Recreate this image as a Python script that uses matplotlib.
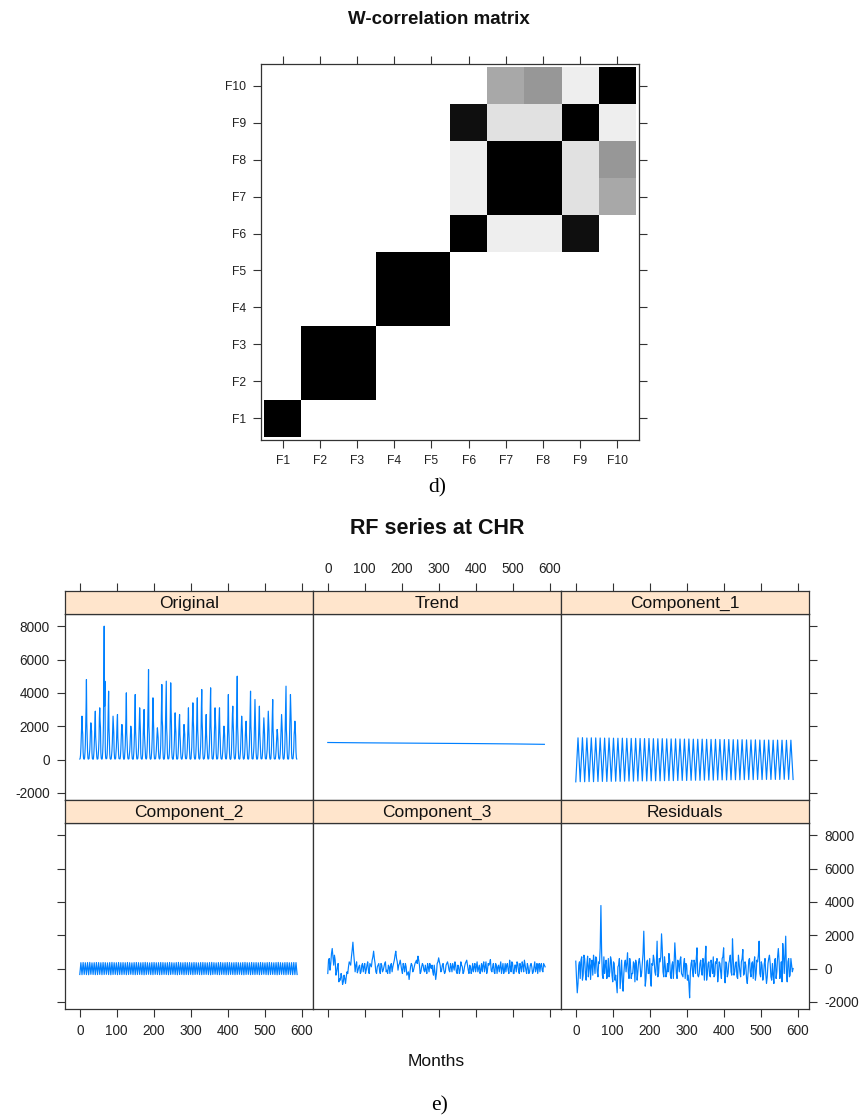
import matplotlib
matplotlib.use("Agg")
import matplotlib.pyplot as plt
import numpy as np

plt.rcParams['font.family'] = ['Liberation Sans', 'DejaVu Sans']
plt.rcParams['axes.unicode_minus'] = False

# ---------------- data: W-correlation matrix ----------------
factor_labels = ['F1', 'F2', 'F3', 'F4', 'F5', 'F6', 'F7', 'F8', 'F9', 'F10']
# rows = F1..F10 (bottom to top), cols = F1..F10
wcor = [
    [1.00, 0.00, 0.00, 0.00, 0.00, 0.00, 0.00, 0.00, 0.00, 0.00],
    [0.00, 1.00, 1.00, 0.00, 0.00, 0.00, 0.00, 0.00, 0.00, 0.00],
    [0.00, 1.00, 1.00, 0.00, 0.00, 0.00, 0.00, 0.00, 0.00, 0.00],
    [0.00, 0.00, 0.00, 1.00, 1.00, 0.00, 0.00, 0.00, 0.00, 0.00],
    [0.00, 0.00, 0.00, 1.00, 1.00, 0.00, 0.00, 0.00, 0.00, 0.00],
    [0.00, 0.00, 0.00, 0.00, 0.00, 1.00, 0.07, 0.07, 0.94, 0.00],
    [0.00, 0.00, 0.00, 0.00, 0.00, 0.07, 1.00, 1.00, 0.12, 0.34],
    [0.00, 0.00, 0.00, 0.00, 0.00, 0.07, 1.00, 1.00, 0.12, 0.41],
    [0.00, 0.00, 0.00, 0.00, 0.00, 0.94, 0.12, 0.12, 1.00, 0.07],
    [0.00, 0.00, 0.00, 0.00, 0.00, 0.00, 0.34, 0.41, 0.07, 1.00],
]

# ---------------- data: RF series at CHR (months 0..~588) ----------------
panel_names = ['Original', 'Trend', 'Component_1',
               'Component_2', 'Component_3', 'Residuals']

# Original, one row per year: Jan, Mar, May, Jul, Sep, Nov
original_jan_mar = [
    [30, 250, 1300, 2600, 1500, 120], [20, 400, 1900, 4800, 1200, 90],
    [40, 300, 1100, 2200, 1700, 60], [10, 350, 1600, 2900, 1000, 150],
    [30, 280, 1200, 3100, 1900, 80], [20, 450, 2100, 8000, 4700, 110],
    [50, 300, 1800, 4100, 1300, 70], [20, 250, 1000, 2600, 1600, 100],
    [30, 380, 1500, 2700, 900, 60], [40, 200, 1300, 2100, 1400, 130],
    [20, 420, 1700, 4000, 1100, 90], [30, 260, 900, 2000, 1500, 50],
    [10, 350, 1600, 3900, 1200, 100], [40, 300, 1400, 3100, 1700, 70],
    [20, 280, 1900, 3000, 1000, 120], [30, 500, 2200, 5400, 1500, 80],
    [20, 330, 1300, 3700, 1800, 60], [50, 250, 1100, 1900, 1300, 140],
    [30, 400, 1800, 4500, 2000, 90], [20, 350, 2300, 4700, 1400, 70],
    [40, 300, 1500, 4600, 2100, 110], [10, 280, 1200, 2800, 1600, 60],
    [30, 350, 1700, 2700, 1100, 100], [20, 220, 1000, 2100, 1500, 80],
    [40, 300, 1400, 3100, 1200, 50], [20, 380, 1600, 3400, 1900, 120],
    [30, 320, 1800, 3700, 1300, 90], [20, 400, 1500, 4200, 1700, 70],
    [50, 260, 1300, 2700, 1000, 110], [30, 420, 2000, 4300, 1500, 60],
    [20, 300, 1400, 3100, 1800, 100], [40, 350, 1700, 3100, 1200, 80],
    [20, 240, 1000, 2000, 1400, 130], [30, 380, 1600, 3900, 1300, 70],
    [10, 320, 1900, 3200, 1600, 90], [30, 450, 2100, 5000, 1400, 60],
    [20, 280, 1200, 2600, 1700, 110], [40, 300, 1500, 2300, 1000, 80],
    [20, 400, 1800, 4100, 1500, 50], [30, 330, 1400, 3600, 1900, 120],
    [20, 300, 1600, 3200, 1100, 90], [50, 250, 1300, 2500, 1500, 70],
    [30, 320, 1200, 2900, 1700, 100], [20, 380, 1700, 3600, 1300, 60],
    [40, 200, 900, 1800, 1200, 110], [20, 300, 1400, 2700, 1600, 80],
    [30, 420, 2000, 4400, 1300, 90], [20, 350, 1800, 3900, 2200, 70],
    [40, 300, 1500, 2300, 1400, 100],
]
# Original, one row per year: Feb, Apr, Jun, Aug, Oct, Dec
original_feb_apr = [
    [60, 700, 2000, 1800, 450, 30], [90, 900, 3100, 2200, 500, 20],
    [50, 600, 1800, 1900, 380, 40], [70, 800, 2200, 1400, 520, 20],
    [40, 650, 2500, 2300, 400, 30], [80, 1000, 4700, 3200, 600, 40],
    [60, 900, 3000, 1900, 350, 20], [50, 550, 1700, 2100, 480, 30],
    [70, 750, 2300, 1300, 300, 40], [40, 600, 1800, 1700, 520, 20],
    [80, 850, 2700, 1600, 420, 30], [50, 500, 1500, 1800, 350, 40],
    [60, 800, 2900, 1700, 450, 20], [70, 700, 2200, 2300, 380, 30],
    [40, 900, 2600, 1500, 500, 40], [90, 1100, 3600, 2000, 420, 20],
    [60, 700, 2400, 2500, 350, 30], [50, 550, 1500, 1600, 480, 40],
    [70, 850, 3200, 2400, 520, 20], [60, 1000, 3900, 1900, 400, 30],
    [80, 750, 2800, 3100, 460, 40], [40, 650, 2000, 2000, 380, 20],
    [60, 800, 2300, 1500, 430, 30], [50, 500, 1600, 1800, 350, 40],
    [70, 700, 2400, 1700, 480, 20], [60, 750, 2600, 2400, 420, 30],
    [40, 900, 2900, 1800, 500, 40], [80, 800, 3100, 2300, 380, 20],
    [60, 650, 2100, 1500, 450, 30], [70, 950, 3300, 2000, 520, 40],
    [50, 700, 2200, 2400, 400, 20], [60, 850, 2500, 1700, 360, 30],
    [40, 550, 1500, 1800, 480, 40], [70, 800, 2800, 1900, 420, 20],
    [60, 900, 2700, 2200, 390, 30], [80, 1000, 3500, 2000, 500, 40],
    [50, 600, 1900, 2200, 430, 20], [60, 750, 2000, 1500, 370, 30],
    [70, 850, 3000, 2000, 460, 40], [40, 700, 2500, 2600, 410, 20],
    [60, 800, 2400, 1600, 500, 30], [50, 650, 1900, 2000, 380, 40],
    [70, 600, 2100, 2300, 440, 20], [60, 850, 2800, 1800, 360, 30],
    [40, 500, 1400, 1600, 470, 40], [60, 700, 2000, 2100, 420, 20],
    [80, 950, 3100, 1800, 510, 30], [60, 900, 2800, 3000, 390, 40],
    [50, 700, 1800, 1900, 440, 30],
]

trend_months = [0, 100, 200, 300, 400, 500, 586]
trend_values = [1020, 1000, 985, 970, 955, 935, 910]

# Component_1: yearly cycle, troughs at start of each year, peaks mid-year
comp1_peaks = [1300, 1310, 1290, 1300, 1295, 1290, 1285, 1290, 1280, 1275,
               1280, 1270, 1265, 1270, 1260, 1255, 1260, 1250, 1245, 1250,
               1240, 1235, 1240, 1230, 1225, 1230, 1220, 1215, 1220, 1210,
               1205, 1210, 1200, 1195, 1200, 1190, 1185, 1190, 1180, 1175,
               1180, 1170, 1165, 1170, 1160, 1165, 1160, 1155, 1160]
comp1_troughs = [-1340, -1330, -1335, -1325, -1330, -1320, -1315, -1320, -1310, -1305,
                 -1310, -1300, -1295, -1300, -1290, -1285, -1290, -1280, -1275, -1280,
                 -1270, -1265, -1270, -1260, -1255, -1260, -1250, -1245, -1250, -1240,
                 -1235, -1240, -1230, -1225, -1230, -1220, -1215, -1220, -1210, -1205,
                 -1210, -1200, -1205, -1195, -1200, -1195, -1200, -1190, -1195, -1200]

# Component_2: half-year cycle
comp2_peaks = [350, 360, 345, 355, 365, 340, 350, 360, 355, 345,
               360, 350, 340, 355, 365, 350, 345, 360, 350, 355,
               345, 360, 350, 340, 355, 360, 350, 345, 355, 365,
               350, 340, 355, 360, 345, 350, 360, 355, 345, 350,
               360, 350, 340, 355, 365, 350, 345, 360, 350, 355,
               345, 360, 350, 340, 355, 360, 350, 345, 355, 365,
               350, 340, 355, 360, 345, 350, 360, 355, 345, 350,
               360, 350, 340, 355, 365, 350, 345, 360, 350, 355,
               345, 360, 350, 340, 355, 360, 350, 345, 355, 365,
               350, 340, 355, 360, 345, 350, 360, 355]
comp2_troughs = [-360, -370, -355, -365, -375, -350, -360, -370, -365, -355,
                 -370, -360, -350, -365, -375, -360, -355, -370, -360, -365,
                 -355, -370, -360, -350, -365, -370, -360, -355, -365, -375,
                 -360, -350, -365, -370, -355, -360, -370, -365, -355, -360,
                 -370, -360, -350, -365, -375, -360, -355, -370, -360, -365,
                 -355, -370, -360, -350, -365, -370, -360, -355, -365, -375,
                 -360, -350, -365, -370, -355, -360, -370, -365, -355, -360,
                 -370, -360, -350, -365, -375, -360, -355, -370, -360, -365,
                 -355, -370, -360, -350, -365, -370, -360, -355, -365, -375,
                 -360, -350, -365, -370, -355, -360, -370, -365, -360]

# Component_3: values at months 0, 4, 8, ...
comp3_values = [
    -300, 600, 300, 1200, 200, 500, -200, 300, -600, -300,
    -960, -400, -900, -200, 100, 300, 700, 1580, 400, 200,
    -260, 100, -300, 200, -200, 300, -100, 400, -300, 200,
    500, 1040, 300, -300, 200, -100, 300, -200, 100, 400,
    -100, 200, -300, 300, 100, 500, 1040, 400, 200, 500,
    -100, 300, -200, 100, -300, -660, 100, 200, -100, 300,
    500, 740, 200, -200, 300, -100, 200, -300, 100, 300,
    0, -200, 200, -660, 300, 640, 200, -100, 300, -300,
    200, 400, -100, 300, -200, 100, 400, -200, 200, -300,
    400, 100, -200, 300, 500, -100, 200, -300, 300, 100,
    -200, 400, 0, -300, 300, 200, -200, 400, -100, 200,
    540, -200, 300, -300, 200, 100, -200, 400, 0, -300,
    300, 200, -100, 500, -200, 300, -300, 200, 400, -100,
    300, -200, 200, 500, -100, 300, -300, 200, 100, -200,
    400, 0, -300, 300, 200, -100, 300, 100,
]
# Component_3: values at months 2, 6, 10, ...
comp3_mid_values = [
    500, -100, 900, 700, 800, -400, 100, -800, -700, -500,
    -800, -600, -500, -300, 400, 200, 1100, 900, -200, 400,
    -100, 200, -200, 300, 100, -300, 200, -100, 300, 100,
    700, 600, -200, 100, 300, -300, 200, -100, 300, -200,
    -300, 100, 200, -200, 300, 800, 600, -100, 300, 200,
    -300, 100, 300, -400, -200, -300, 300, -200, 100, 400,
    300, 500, -300, 100, 200, -200, -100, 300, -200, 100,
    200, -400, -200, -300, 400, 400, -200, 200, -100, -200,
    300, 200, -200, 100, 300, -100, 200, -300, 100, -100,
    200, -300, 100, 400, 200, -300, 100, -100, -200, 300,
    100, -200, 200, -100, -200, 400, 100, -300, 300, 300,
    -100, 100, -200, 300, -300, 200, 100, -300, 300, -100,
    -200, 300, -300, 100, 400, -300, 200, -200, 300, -300,
    100, 400, -200, 200, -300, 100, -200, 300, -300, 100,
    -200, 300, 100, -200, 300, -200, 200,
]

# Residuals: values at months 0, 4, 8, ...
resid_values = [
    440, -1460, 200, -600, 700, -400, 600, -700, 740, 100,
    -660, 500, 800, -300, 600, -500, 300, 3780, -400, 700,
    200, -600, 600, -200, 500, -800, 300, -400, -1460, 200,
    -1200, 500, -1360, 300, -200, 940, -600, 200, -300, 400,
    -800, 300, -200, 600, -500, 300, 2240, -1060, 400, -300,
    600, -1060, 200, 500, -400, 1640, -300, 400, 2080, -200,
    700, -500, 300, 900, -400, 200, -600, 1540, -300, 500,
    -200, 700, -400, 300, -600, 200, -400, -1760, 300, -200,
    500, -300, 1240, -500, 300, -200, 600, -700, 1340, -300,
    400, -500, 200, 700, -400, 300, -800, 400, -200, 600,
    1240, -860, 300, -300, 500, -200, 1780, -400, 300, -500,
    800, -200, 400, 1140, -300, 200, -900, 500, -200, 300,
    -600, 700, -300, 400, 1640, -500, 200, -400, 600, -900,
    300, 800, -500, 300, -900, 600, -200, 1200, -600, 400,
    1500, -300, 1940, -800, 600, -400, 200, 0,
]
# Residuals: values at months 2, 6, 10, ...
resid_mid_values = [
    -600, -900, 400, 500, -700, 800, -300, 300, -500, 600,
    200, -400, 300, 700, -200, 400, 1200, 900, -600, -300,
    500, -300, -500, 700, -400, 400, -700, -900, 100, 600,
    -400, -800, -300, 500, 300, -200, 600, -600, -300, 300,
    500, -700, 400, 200, -300, 900, 600, -600, 500, -300,
    -600, 300, 800, -200, 300, -500, 600, 700, 1200, -500,
    200, -300, -200, 500, -600, 400, 300, 700, -600, 300,
    500, -300, -500, 600, 300, -700, -900, -200, 500, -500,
    300, 600, -400, -300, 500, -400, 300, 600, -700, 300,
    -400, 500, -300, -500, 400, 600, -300, 300, -600, 700,
    -300, 400, -500, 300, 800, -400, 600, -200, 400, -600,
    300, -500, 600, -400, 400, -600, -300, 600, -500, 400,
    300, -700, 500, 800, -300, 400, -700, 300, -300, -500,
    600, 300, -700, -400, 500, -600, 700, 500, -300, -800,
    800, 900, -300, 400, -500, 600, -200,
]

x_ticks = [0, 100, 200, 300, 400, 500, 600]
y_ticks = [-2000, 0, 2000, 4000, 6000, 8000]


# ---------------- build series ----------------
def merge(a_vals, b_vals, step):
    """interleave readings at months 0, step, 2*step... with readings half a step later"""
    xs, ys = [], []
    for k, v in enumerate(a_vals):
        xs.append(k * step); ys.append(v)
        if k < len(b_vals):
            xs.append(k * step + step / 2); ys.append(b_vals[k])
    return xs, ys


orig_y = []
for ev, od in zip(original_jan_mar, original_feb_apr):
    for a, b in zip(ev, od):
        orig_y.extend([a, b])
orig_x = np.arange(len(orig_y))

c1_x, c1_y = merge(comp1_troughs, comp1_peaks, 12)
c2_x, c2_y = merge(comp2_troughs, comp2_peaks, 6)
c3_x, c3_y = merge(comp3_values, comp3_mid_values, 4)
res_x, res_y = merge(resid_values, resid_mid_values, 4)

series = {
    'Original': (orig_x, orig_y),
    'Trend': (trend_months, trend_values),
    'Component_1': (c1_x, c1_y),
    'Component_2': (c2_x, c2_y),
    'Component_3': (c3_x, c3_y),
    'Residuals': (res_x, res_y),
}

# ---------------- figure ----------------
W, H = 861, 1120
fig = plt.figure(figsize=(W / 100, H / 100), dpi=100)


def rect(x0, y0, x1, y1):
    return [x0 / W, 1 - y1 / H, (x1 - x0) / W, (y1 - y0) / H]


frame_col = '#333333'
text_col = '#222222'

# ---- W-correlation matrix ----
ax = fig.add_axes(rect(261, 64, 639, 440))
ax.imshow(np.array(wcor), cmap='gray_r', vmin=0, vmax=1, origin='lower',
          extent=(0.5, 10.5, 0.5, 10.5), aspect='auto', interpolation='nearest')
ax.set_xlim(0.41, 10.59)
ax.set_ylim(0.41, 10.59)
ticks = np.arange(1, len(factor_labels) + 1)
ax.set_xticks(ticks)
ax.set_xticklabels(factor_labels)
ax.set_yticks(ticks)
ax.set_yticklabels(factor_labels)
ax.tick_params(axis='both', which='both', direction='out', length=5.5, width=0.8,
               color=frame_col, labelsize=8.7, labelcolor=text_col, pad=5,
               top=True, right=True, labeltop=False, labelright=False)
for s in ax.spines.values():
    s.set_color(frame_col)
    s.set_linewidth(0.9)
fig.text(439 / W, 1 - 19 / H, 'W-correlation matrix', ha='center', va='center',
         fontsize=13.5, fontweight='bold', color='#111111')
fig.text(437 / W, 1 - 488 / H, 'd)', ha='center', va='center', fontsize=15.5,
         family=['Liberation Serif', 'DejaVu Serif'], color='black')

# ---- lattice panels ----
fig.text(437.5 / W, 1 - 528 / H, 'RF series at CHR', ha='center', va='center',
         fontsize=15.5, fontweight='bold', color='#111111')

col_edges = [65, 313, 561, 809]
rows = [(591, 614, 800), (800, 823, 1009)]  # strip top, plot top, plot bottom
xlim = (-40, 631)
ylim = (-2430, 8730)
line_col = '#0080ff'
tick_kw = dict(direction='out', length=5.5, width=0.8, color=frame_col,
               labelsize=9.8, labelcolor=text_col, pad=5.5)

for idx, name in enumerate(panel_names):
    r, c = divmod(idx, 3)
    x0, x1 = col_edges[c], col_edges[c + 1]
    st, pt, pb = rows[r]
    # plot area
    pax = fig.add_axes(rect(x0, pt, x1, pb))
    xs, ys = series[name]
    pax.plot(xs, ys, color=line_col, lw=0.85)
    pax.set_xlim(*xlim)
    pax.set_ylim(*ylim)
    pax.set_xticks(x_ticks)
    pax.set_yticks(y_ticks)
    pax.tick_params(axis='x', bottom=(r == 1), top=False,
                    labelbottom=(r == 1 and c != 1), labeltop=False, **tick_kw)
    pax.tick_params(axis='y', left=(c == 0), right=(c == 2),
                    labelleft=(r == 0 and c == 0), labelright=(r == 1 and c == 2),
                    **tick_kw)
    for s in pax.spines.values():
        s.set_color(frame_col)
        s.set_linewidth(0.9)
    # strip
    sax = fig.add_axes(rect(x0, st, x1, pt))
    sax.set_facecolor('#ffe5cc')
    sax.set_xlim(*xlim)
    sax.set_ylim(0, 1)
    sax.set_yticks([])
    if r == 0:
        sax.set_xticks(x_ticks)
        sax.tick_params(axis='x', top=True, bottom=False, labeltop=(c == 1),
                        labelbottom=False, **tick_kw)
    else:
        sax.set_xticks([])
    sax.text(0.5, 0.47, name, ha='center', va='center', transform=sax.transAxes,
             fontsize=12.5, color='#111111')
    for s in sax.spines.values():
        s.set_color(frame_col)
        s.set_linewidth(0.9)

fig.text(436.5 / W, 1 - 1062 / H, 'Months', ha='center', va='center',
         fontsize=12.5, color='#111111')
fig.text(440 / W, 1 - 1106 / H, 'e)', ha='center', va='center', fontsize=15.5,
         family=['Liberation Serif', 'DejaVu Serif'], color='black')

fig.savefig('out.png', dpi=100, facecolor='white')
